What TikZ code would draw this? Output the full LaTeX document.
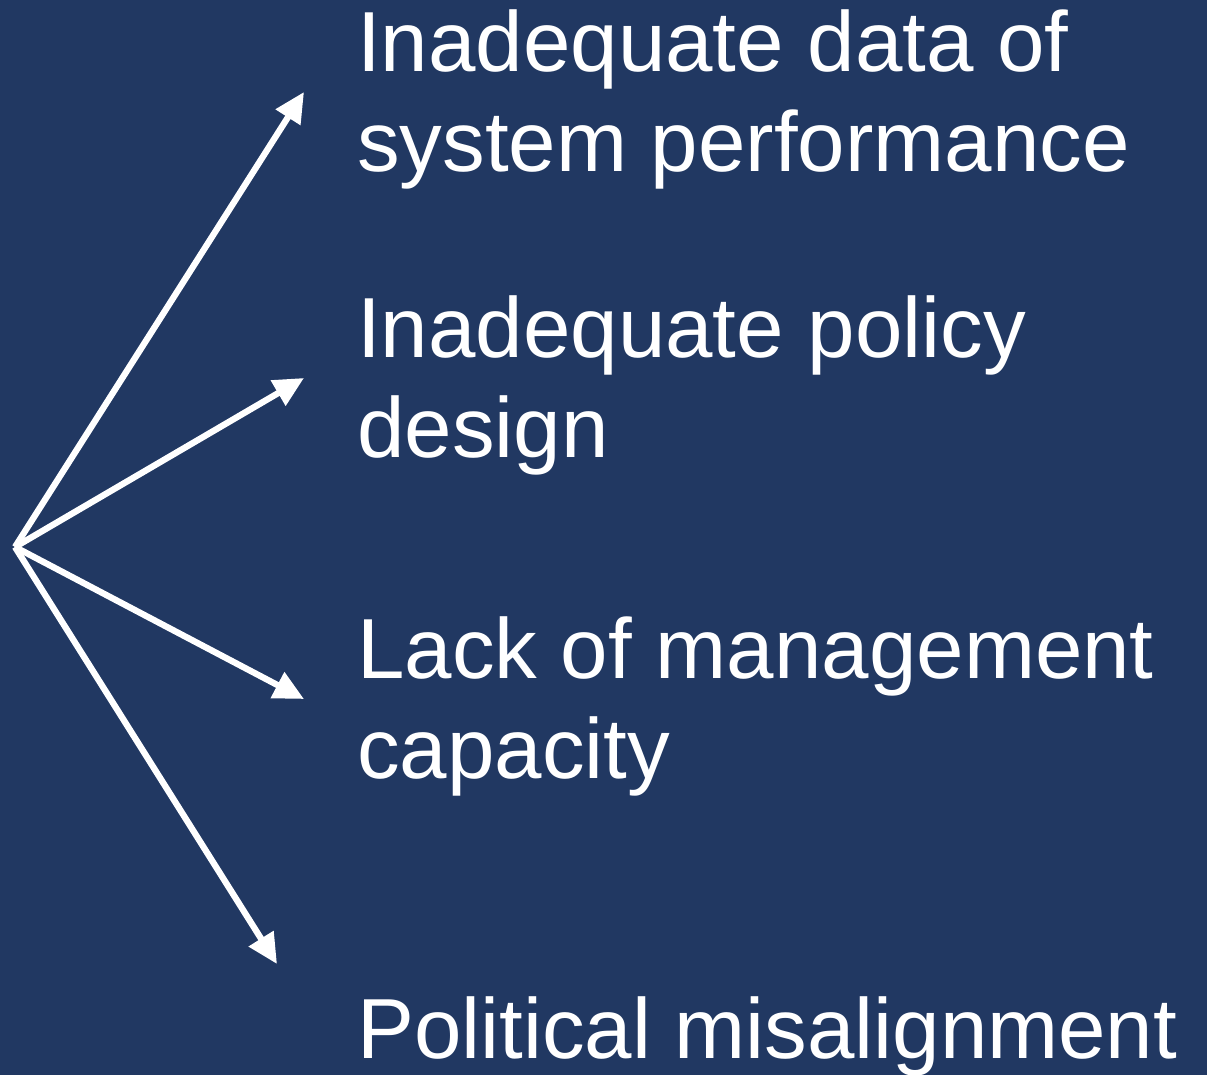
\documentclass[tikz,border=0pt]{standalone}
\usepackage{fontspec}
\setmainfont{Liberation Sans}
\usetikzlibrary{arrows.meta}
\definecolor{bgblue}{RGB}{33,56,98}
\tikzset{
  lbl/.style={text=white, anchor=base west, inner sep=0pt, align=left,
    font=\fontsize{85.3}{100}\selectfont},
  arr/.style={draw=white, line width=6.3pt,
    -{Triangle[length=30pt,width=28pt]}}
}
\begin{document}
\begin{tikzpicture}[x=1pt,y=-1pt]
\fill[bgblue] (0,0) rectangle (1207,1075);
\useasboundingbox (0,0) rectangle (1207,1075);
\coordinate (o) at (15,547);
\coordinate (t1) at (304,92);
\coordinate (t2) at (304,378);
\coordinate (t3) at (304,699);
\coordinate (t4) at (277,964);
\node[lbl] (l1) at (357,172) {Inadequate data of\\system performance};
\node[lbl] (l2) at (357,457) {Inadequate policy\\design};
\node[lbl] (l3) at (357,778) {Lack of management\\capacity};
\node[lbl] (l4) at (357,1058) {Political misalignment};
\draw[arr] (o) -- (t1);
\draw[arr] (o) -- (t2);
\draw[arr] (o) -- (t3);
\draw[arr] (o) -- (t4);
\end{tikzpicture}
\end{document}
